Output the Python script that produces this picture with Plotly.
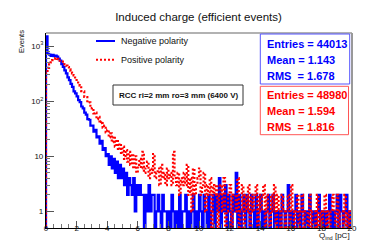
import plotly.graph_objects as go

# ---- data (bin contents, 0.1 pC bins from 0 to 20) ----
bin_width = 0.1
n_bins = 200

neg_counts = [
    1500, 720, 700, 665, 690, 655, 670, 640, 590, 545,
    470, 420, 360, 318, 270, 240, 205, 182, 150, 138,
    122, 104, 96, 80, 74, 62, 57, 47, 46, 36,
    36, 28, 30, 22, 23, 17, 19, 13, 14, 10,
    11, 7, 10, 6, 9, 5, 8, 4, 7, 4,
    6, 3, 5, 2, 4, 3, 2, 4, 1, 3,
    2, 3, 2, 2, 0, 2, 1, 3, 1, 2,
    2, 0, 1, 2, 1, 0, 2, 1, 1, 0,
    1, 0, 2, 1, 0, 1, 0, 2, 0, 1,
    1, 2, 0, 1, 0, 1, 2, 0, 1, 0,
    2, 1, 0, 2, 1, 0, 2, 0, 1, 2,
    0, 2, 1, 4, 0, 2, 1, 3, 0, 2,
    1, 0, 2, 1, 5, 0, 2, 0, 1, 2,
    0, 2, 1, 0, 2, 1, 0, 2, 0, 1,
    2, 0, 1, 0, 1, 2, 0, 1, 2, 0,
    1, 0, 1, 0, 2, 1, 0, 1, 3, 0,
    1, 0, 1, 2, 0, 1, 0, 2, 1, 0,
    1, 0, 2, 1, 0, 1, 0, 1, 2, 0,
    1, 0, 1, 0, 1, 2, 0, 1, 0, 1,
    2, 0, 2, 1, 0, 1, 2, 0, 1, 0,
]

pos_counts = [
    320, 400, 465, 505, 555, 590, 605, 585, 575, 540,
    520, 490, 470, 440, 415, 378, 352, 318, 292, 255,
    232, 196, 190, 152, 150, 120, 118, 94, 95, 74,
    75, 60, 62, 47, 52, 40, 43, 33, 36, 27,
    30, 22, 26, 18, 23, 15, 20, 13, 17, 11,
    15, 9, 13, 8, 12, 7, 11, 6, 10, 5,
    7, 9, 6, 12, 5, 6, 8, 4, 6, 5,
    11, 4, 5, 6, 3, 7, 4, 5, 3, 6,
    4, 5, 3, 12, 4, 3, 5, 2, 4, 3,
    5, 3, 7, 2, 4, 1, 6, 2, 3, 4,
    6, 2, 3, 5, 1, 3, 2, 4, 0, 3,
    2, 3, 0, 2, 3, 1, 4, 0, 1, 2,
    3, 0, 2, 2, 1, 4, 0, 1, 3, 0,
    2, 1, 3, 0, 2, 1, 2, 3, 0, 2,
    1, 2, 3, 0, 2, 1, 0, 2, 1, 3,
    0, 2, 1, 0, 2, 1, 0, 1, 2, 0,
    3, 1, 0, 1, 2, 0, 1, 2, 0, 1,
    1, 0, 2, 0, 1, 1, 0, 2, 0, 1,
    0, 1, 2, 0, 1, 0, 1, 2, 1, 0,
    2, 0, 1, 1, 0, 2, 0, 1, 0, 1,
]

series_names = ["Negative polarity", "Positive polarity"]
stats_neg = ["Entries = 44013", "Mean = 1.143", "RMS\u00a0 = 1.678"]
stats_pos = ["Entries = 48980", "Mean = 1.594", "RMS\u00a0 = 1.816"]
title_text = "Induced charge (efficient events)"
label_text = "RCC ri=2 mm ro=3 mm (6400 V)"
x_tickvals = [0, 2, 4, 6, 8, 10, 12, 14, 16, 18, 20]
y_tickvals = [1, 10, 100, 1000]
y_ticktext = ["1", "10", "10<sup>2</sup>", "10<sup>3</sup>"]

FLOOR = 0.1  # empty bins drawn down below the axis (log scale)


def step_xy(counts):
    edges = [i * bin_width for i in range(n_bins + 1)]
    xs = [edges[0]]
    ys = [FLOOR]
    for i, c in enumerate(counts):
        xs.append(edges[i])
        ys.append(c if c > 0 else FLOOR)
    xs.append(edges[-1])
    ys.append(counts[-1] if counts[-1] > 0 else FLOOR)
    return xs, ys


FONT = "Liberation Sans, Arial, sans-serif"
BLUE = "#0000ff"
RED = "#ff0000"

fig = go.Figure()
xb, yb = step_xy(neg_counts)
fig.add_trace(go.Scatter(x=xb, y=yb, mode="lines", line=dict(color=BLUE, width=2.2, shape="hv"),
                         name=series_names[0], showlegend=False))
xr, yr = step_xy(pos_counts)
fig.add_trace(go.Scatter(x=xr, y=yr, mode="lines",
                         line=dict(color=RED, width=2.2, shape="hv", dash="2px,2px"),
                         name=series_names[1], showlegend=False))

L, R, T, B = 38, 37, 25, 24
W, H = 381, 244
pw, ph = W - L - R, H - T - B


def px(x):
    return (x - L) / pw


def py(y):
    return (H - B - y) / ph


fig.update_layout(
    width=W, height=H,
    margin=dict(l=L, r=R, t=T, b=B, pad=0),
    paper_bgcolor="white", plot_bgcolor="white",
    font=dict(family=FONT, size=8, color="black"),
    title=dict(text=title_text, x=0.5, xanchor="center", y=1 - 9 / H, yanchor="middle",
               font=dict(family=FONT, size=11.5, color="#111")),
    showlegend=False,
)

fig.update_xaxes(
    range=[0, 20], showgrid=False, zeroline=False,
    showline=True, linecolor="black", linewidth=1.2,
    ticks="inside", ticklen=7, tickcolor="#555", tickwidth=1,
    tickvals=x_tickvals, ticklabelstandoff=-8,
    minor=dict(ticks="inside", ticklen=3.5, tickcolor="#777", dtick=0.5, tick0=0, showgrid=False),
    tickfont=dict(family=FONT, size=8, color="#111"),
)
fig.update_yaxes(
    type="log", range=[-0.301, 3.236], showgrid=False, zeroline=False,
    showline=True, linecolor="black", linewidth=1.2,
    ticks="inside", ticklen=8, tickcolor="#555", tickwidth=1,
    tickvals=y_tickvals, ticktext=y_ticktext,
    minor=dict(ticks="inside", ticklen=4, tickcolor="#777", showgrid=False,
               tickvals=[m * d for d in (1, 10, 100) for m in range(2, 10)]),
    tickfont=dict(family=FONT, size=8, color="#111"),
)

shapes = []
# frame top/right
shapes.append(dict(type="line", xref="paper", yref="paper", x0=0, x1=1, y0=1, y1=1,
                   line=dict(color="#999999", width=1.5), layer="above"))
shapes.append(dict(type="line", xref="paper", yref="paper", x0=1, x1=1, y0=0, y1=1,
                   line=dict(color="#999999", width=2), layer="above"))
# legend samples
shapes.append(dict(type="line", xref="paper", yref="paper", x0=px(88), x1=px(107), y0=py(33), y1=py(33),
                   line=dict(color=BLUE, width=2), layer="above"))
shapes.append(dict(type="line", xref="paper", yref="paper", x0=px(88), x1=px(107), y0=py(51.7), y1=py(51.7),
                   line=dict(color=RED, width=2, dash="2px,2px"), layer="above"))
# RCC label box
shapes.append(dict(type="rect", xref="paper", yref="paper", x0=px(105), x1=px(235), y0=py(97), y1=py(77),
                   line=dict(color="#333333", width=1), fillcolor="white", layer="above"))
# stats boxes
shapes.append(dict(type="rect", xref="paper", yref="paper", x0=px(252.3), x1=px(341.7), y0=py(76), y1=py(26),
                   line=dict(color="#5555ff", width=1), fillcolor="white", layer="above"))
shapes.append(dict(type="rect", xref="paper", yref="paper", x0=px(252.3), x1=px(340.5), y0=py(126.7), y1=py(78.3),
                   line=dict(color="#ff5555", width=1), fillcolor="white", layer="above"))

ann = []
ann.append(dict(text=series_names[0], xref="paper", yref="paper", x=px(111), y=py(33),
                xanchor="left", yanchor="middle", showarrow=False,
                font=dict(family=FONT, size=9, color="#111")))
ann.append(dict(text=series_names[1], xref="paper", yref="paper", x=px(111), y=py(51.7),
                xanchor="left", yanchor="middle", showarrow=False,
                font=dict(family=FONT, size=9, color="#111")))
ann.append(dict(text="<b>" + label_text + "</b>", xref="paper", yref="paper", x=px(170), y=py(87),
                xanchor="center", yanchor="middle", showarrow=False,
                font=dict(family=FONT, size=8, color="#111")))
for txt, yy in zip(stats_neg, [35.7, 51.7, 68.3]):
    ann.append(dict(text="<b>" + txt + "</b>", xref="paper", yref="paper", x=px(257), y=py(yy),
                    xanchor="left", yanchor="middle", showarrow=False,
                    font=dict(family=FONT, size=11, color=BLUE)))
for txt, yy in zip(stats_pos, [87.3, 103.3, 119.3]):
    ann.append(dict(text="<b>" + txt + "</b>", xref="paper", yref="paper", x=px(257), y=py(yy),
                    xanchor="left", yanchor="middle", showarrow=False,
                    font=dict(family=FONT, size=11, color=RED)))
# axis titles
ann.append(dict(text="Events", xref="paper", yref="paper", x=px(14), y=py(34),
                xanchor="center", yanchor="middle", textangle=-90, showarrow=False,
                font=dict(family=FONT, size=7.5, color="#111")))
ann.append(dict(text="Q<sub>ind</sub> [pC]", xref="paper", yref="paper", x=px(343.5), y=py(227.5),
                xanchor="right", yanchor="middle", showarrow=False,
                font=dict(family=FONT, size=8, color="#111")))

fig.update_layout(shapes=shapes, annotations=ann)
fig.write_html("out.html")
